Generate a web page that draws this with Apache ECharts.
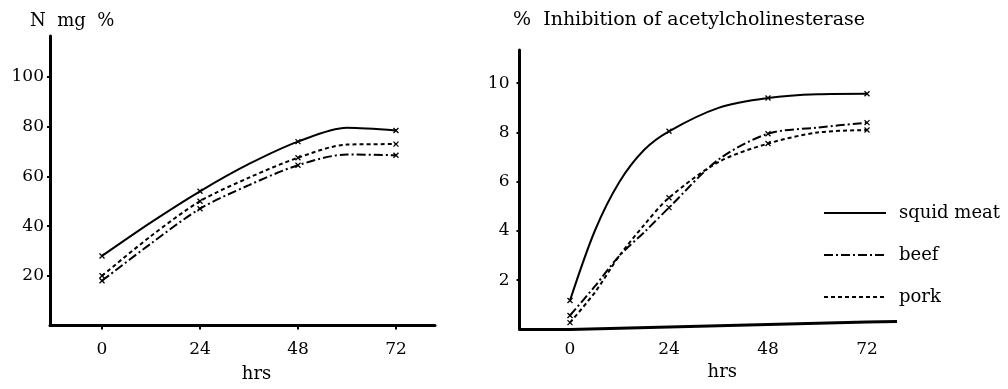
<!DOCTYPE html>
<html>
<head>
<meta charset="utf-8">
<script src="https://cdn.jsdelivr.net/npm/echarts@6/dist/echarts.min.js"></script>
<style>
html, body { margin: 0; padding: 0; background: #fff; }
#chart { width: 1008px; height: 389px; }
</style>
</head>
<body>
<div id="chart"></div>
<script>
// hours that carry a small x marker, and the tick labels under both charts
const markHours = [0, 24, 48, 72];
const tickHours = [0, 24, 48, 72];

// left panel: N mg %
const leftHours = [0, 12, 24, 36, 48, 60, 72];
const nSquid = [28, 41.5, 54, 65, 74, 79.6, 78.5];
const nBeef  = [18, 33, 47, 56.5, 64.5, 68.8, 68.5];
const nPork  = [20, 36, 50, 59.5, 67.5, 72.8, 73];
const leftYTicks = [20, 40, 60, 80, 100];

// right panel: % inhibition of acetylcholinesterase
const rightHours = [0, 6, 12, 18, 24, 36, 48, 60, 72];
const aSquid = [1.18, 4.0, 6.0, 7.3, 8.05, 9.0, 9.4, 9.55, 9.57];
const aBeef  = [0.57, 1.75, 3.0, 3.95, 4.95, 6.9, 7.95, 8.2, 8.4];
const aPork  = [0.28, 1.5, 3.0, 4.25, 5.35, 6.8, 7.55, 8.0, 8.1];
const rightYTicks = [2, 4, 6, 8, 10];

// axis ranges
const xMinL = -12.74, xMaxL = 81.56, yMaxL = 116.5;
const xMinR = -12.24, xMaxR = 79.27, yMaxR = 11.35;

// the right chart's base line rises a little toward 72 h
const baseHours = [xMinR, 0, 72, xMaxR];
const baseVals = [0, 0, 0.3, 0.32];

const FONT = 'DejaVu Serif';
const xMark = 'path://M0,0L10,10M10,0L0,10';
const dashBeef = [9, 3, 2, 3];
const dashPork = [4, 3];

function curve(name, hrs, vals, dash, gi) {
    return {
        name: name,
        type: 'line',
        xAxisIndex: gi,
        yAxisIndex: gi,
        smooth: 0.3,
        symbol: xMark,
        symbolSize: 5,
        showAllSymbol: true,
        lineStyle: { color: '#000', width: 2, type: dash },
        itemStyle: { color: '#000', borderColor: '#000', borderWidth: 1.3 },
        data: hrs.map((h, i) => markHours.includes(h) ? [h, vals[i]] : { value: [h, vals[i]], symbol: 'none' })
    };
}

function xAxis(gi, min, max, margin, nameGap, showLine) {
    return {
        type: 'value', gridIndex: gi, min: min, max: max,
        axisLine: { show: showLine, onZero: false, lineStyle: { color: '#000', width: 3 } },
        axisTick: { show: showLine, customValues: tickHours, length: 4, lineStyle: { color: '#000', width: 2 } },
        axisLabel: { customValues: tickHours, margin: margin, color: '#000', fontFamily: FONT, fontSize: 17 },
        splitLine: { show: false },
        name: 'hrs', nameLocation: 'middle', nameGap: nameGap,
        nameTextStyle: { color: '#000', fontFamily: FONT, fontSize: 18, padding: [0, 0, 0, 28] }
    };
}

function yAxis(gi, max, ticks, margin) {
    return {
        type: 'value', gridIndex: gi, min: 0, max: max,
        axisLine: { show: true, onZero: false, lineStyle: { color: '#000', width: 3 } },
        axisTick: { show: true, customValues: ticks, length: 3, lineStyle: { color: '#000', width: 2 } },
        axisLabel: { customValues: ticks, margin: margin, color: '#000', fontFamily: FONT, fontSize: 17 },
        splitLine: { show: false }
    };
}

let chart = echarts.init(document.getElementById('chart'));

let option = {
    animation: false,
    backgroundColor: '#fff',
    title: [
        { text: 'N  mg  %', left: 25, top: 7, textStyle: { color: '#000', fontFamily: FONT, fontSize: 18, fontWeight: 'normal' } },
        { text: '%  Inhibition of acetylcholinesterase', left: 508, top: 6, textStyle: { color: '#000', fontFamily: FONT, fontSize: 19, fontWeight: 'normal' } }
    ],
    legend: {
        orient: 'vertical',
        left: 823, top: 204,
        padding: 0,
        itemWidth: 62, itemHeight: 10, itemGap: 24,
        itemStyle: { opacity: 0 },
        textStyle: { color: '#000', fontFamily: FONT, fontSize: 18, padding: [0, 0, 0, 8] },
        data: ['squid meat', 'beef', 'pork']
    },
    grid: [
        { left: 50, right: 1008 - 435, top: 36, bottom: 389 - 325.5 },
        { left: 519.5, right: 1008 - 897, top: 50, bottom: 389 - 329.5 }
    ],
    xAxis: [
        xAxis(0, xMinL, xMaxL, 16, 40, true),
        xAxis(1, xMinR, xMaxR, 12, 34, false)
    ],
    yAxis: [
        yAxis(0, yMaxL, leftYTicks, 6),
        yAxis(1, yMaxR, rightYTicks, 10)
    ],
    series: [
        curve('squid meat', leftHours, nSquid, 'solid', 0),
        curve('beef', leftHours, nBeef, dashBeef, 0),
        curve('pork', leftHours, nPork, dashPork, 0),
        curve('squid meat', rightHours, aSquid, 'solid', 1),
        curve('beef', rightHours, aBeef, dashBeef, 1),
        curve('pork', rightHours, aPork, dashPork, 1),
        {
            name: 'base',
            type: 'line',
            xAxisIndex: 1,
            yAxisIndex: 1,
            symbol: 'none',
            lineStyle: { color: '#000', width: 3 },
            data: baseHours.map((h, i) => [h, baseVals[i]])
        }
    ]
};

chart.setOption(option);
window.addEventListener('resize', function () {
    chart.resize();
});
</script>
</body>
</html>
